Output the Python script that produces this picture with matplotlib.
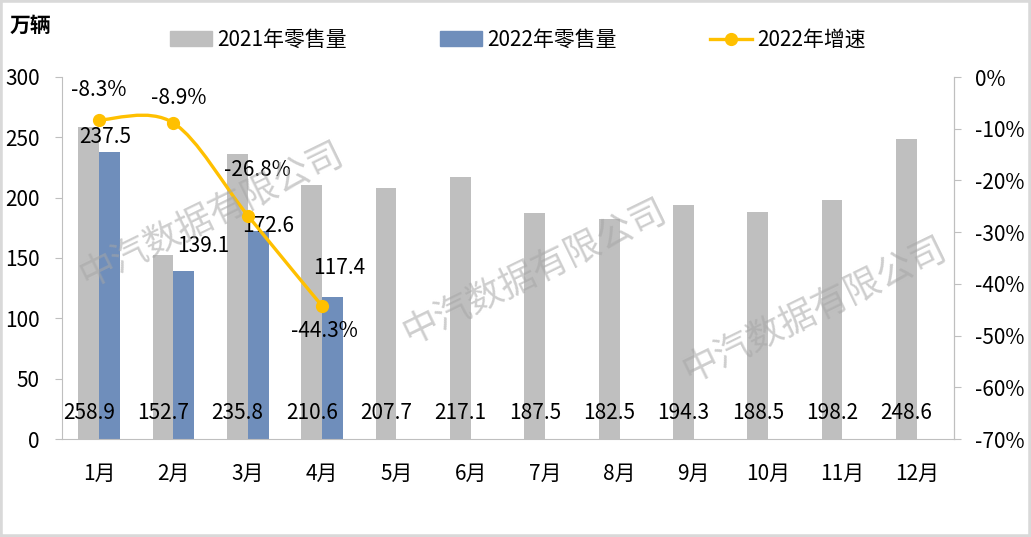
import numpy as np
import matplotlib.pyplot as plt
from matplotlib.path import Path
from matplotlib.patches import PathPatch, Patch, Rectangle
from matplotlib.lines import Line2D

plt.rcParams['font.family'] = ['Noto Sans CJK SC', 'DejaVu Sans']

months = ['1月', '2月', '3月', '4月', '5月', '6月', '7月', '8月', '9月', '10月', '11月', '12月']
sales_2021 = [258.9, 152.7, 235.8, 210.6, 207.7, 217.1, 187.5, 182.5, 194.3, 188.5, 198.2, 248.6]
sales_2022 = [237.5, 139.1, 172.6, 117.4]
growth_2022 = [-8.3, -8.9, -26.8, -44.3]

gray = '#BFBFBF'
blue = '#6F8EBB'
gold = '#FFC000'
axis_c = '#BFBFBF'
fs = 15

# label offsets in pixels (hand placed as in the original)
off_2022 = [(-4, 15), (19, 25), (10, 5), (7, 29)]
off_growth = [(0, 30), (5, 25), (10, 46), (2, -25)]

fig = plt.figure(figsize=(10.31, 5.37), dpi=100)
ax = fig.add_axes([62 / 1031, 1 - 439 / 537, (954 - 62) / 1031, (439 - 77) / 537])
ax2 = ax.twinx()

x = np.arange(len(months))
w = 0.28
ax.bar(x - w / 2, sales_2021, w, color=gray, zorder=2)
x2 = np.arange(len(sales_2022))
ax.bar(x2 + w / 2, sales_2022, w, color=blue, zorder=2)

for i, v in enumerate(sales_2021):
    ax.annotate(f'{v:.1f}', (x[i] - w / 2, 0), xytext=(0, 26), textcoords='offset pixels',
                ha='center', va='center', fontsize=fs, zorder=5)
for i, v in enumerate(sales_2022):
    dx, dy = off_2022[i]
    ax.annotate(f'{v:.1f}', (x2[i] + w / 2, v), xytext=(dx, dy), textcoords='offset pixels',
                ha='center', va='center', fontsize=fs, zorder=5)

ax.set_xlim(-0.5, len(months) - 0.5)
ax.set_ylim(0, 300)
ax.set_yticks(range(0, 301, 50))
ax.set_xticks(x)
ax.set_xticklabels(months, fontsize=fs)
ax.tick_params(axis='x', length=0, pad=17)
ax.tick_params(axis='y', labelsize=fs, length=5, color=axis_c, pad=11)
ax.spines['top'].set_visible(False)
ax2.spines['top'].set_visible(False)
for s in ['left', 'bottom', 'right']:
    ax.spines[s].set_color(axis_c)
    ax2.spines[s].set_color(axis_c)
ax2.spines['left'].set_visible(False)
ax2.spines['bottom'].set_visible(False)

ax2.set_ylim(-70, 0)
ax2.set_yticks(range(-70, 1, 10))
ax2.set_yticklabels([f'{v}%' for v in range(-70, 1, 10)])
ax2.tick_params(axis='y', labelsize=fs, length=5, color=axis_c, pad=10)

# smoothed line (Catmull-Rom style bezier through the points)
pts = np.column_stack([x2, growth_2022]).astype(float)
ext = np.vstack([pts[0], pts, pts[-1]])
verts = [tuple(pts[0])]
codes = [Path.MOVETO]
for k in range(len(pts) - 1):
    p0, p1, p2, p3 = ext[k], ext[k + 1], ext[k + 2], ext[k + 3]
    c1 = p1 + (p2 - p0) / 6
    c2 = p2 - (p3 - p1) / 6
    verts += [tuple(c1), tuple(c2), tuple(p2)]
    codes += [Path.CURVE4] * 3
ax2.add_patch(PathPatch(Path(verts, codes), fill=False, edgecolor=gold, linewidth=2.4, zorder=3))
ax2.plot(x2, growth_2022, 'o', color=gold, markersize=8.5, zorder=4)
for i, v in enumerate(growth_2022):
    dx, dy = off_growth[i]
    ax2.annotate(f'{v}%', (x2[i], v), xytext=(dx, dy), textcoords='offset pixels',
                 ha='center', va='center', fontsize=fs, zorder=5)

# watermarks
for cx, cy in [(212, 215), (535, 272), (815, 310)]:
    fig.text(cx / 1031, 1 - cy / 537, '中汽数据有限公司', fontsize=26, color='#A6A6A6', alpha=0.55,
             rotation=26, ha='center', va='center', zorder=10)

fig.text(10 / 1031, 1 - 25 / 537, '万辆', fontsize=15, fontweight='bold', ha='left', va='center')

handles = [Patch(color=gray), Patch(color=blue),
           Line2D([], [], color=gold, linewidth=2.4, marker='o', markersize=8.5)]
fig.legend(handles, ['2021年零售量', '2022年零售量', '2022年增速'], loc='center',
           bbox_to_anchor=(518 / 1031, 1 - 40 / 537), ncol=3, frameon=False, fontsize=fs,
           handlelength=2.0, handleheight=0.7, handletextpad=0.25, columnspacing=4.5)

fig.add_artist(Rectangle((0, 0), 1, 1, transform=fig.transFigure, fill=False,
                         edgecolor='#D9D9D9', linewidth=4))

fig.savefig('out.png', dpi=100)
